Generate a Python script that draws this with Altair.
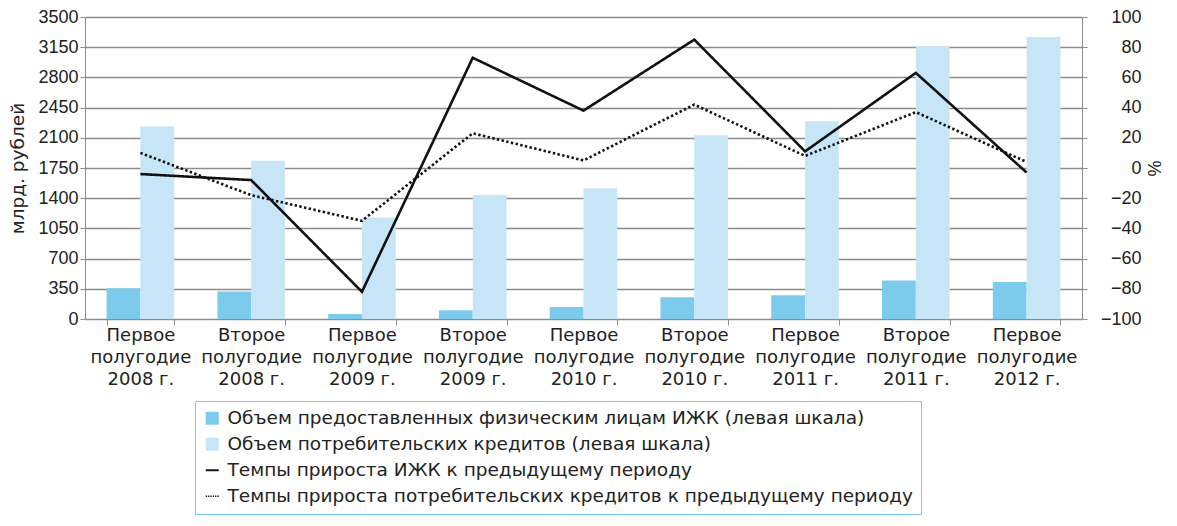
import altair as alt
import pandas as pd

periods = [
    "Первое полугодие 2008 г.", "Второе полугодие 2008 г.",
    "Первое полугодие 2009 г.", "Второе полугодие 2009 г.",
    "Первое полугодие 2010 г.", "Второе полугодие 2010 г.",
    "Первое полугодие 2011 г.", "Второе полугодие 2011 г.",
    "Первое полугодие 2012 г.",
]
izhk_volume = [355, 320, 58, 100, 139, 251, 274, 447, 428]
consumer_volume = [2230, 1835, 1176, 1437, 1511, 2131, 2293, 3160, 3269]
izhk_growth = [-4, -8, -82, 73, 38, 85, 11, 63, -3]
consumer_growth = [10, -18, -35, 23, 5, 42, 8, 37, 4]

series_names = [
    "Объем предоставленных физическим лицам ИЖК (левая шкала)",
    "Объем потребительских кредитов (левая шкала)",
    "Темпы прироста ИЖК к предыдущему периоду",
    "Темпы прироста потребительских кредитов к предыдущему периоду",
]
colors = ["#7ccbec", "#c6e6f7", "#111111", "#111111"]
left_ticks = [0, 350, 700, 1050, 1400, 1750, 2100, 2450, 2800, 3150, 3500]
right_ticks = [-100, -80, -60, -40, -20, 0, 20, 40, 60, 80, 100]

NUM_FONT = "Liberation Sans"
TXT_FONT = "DejaVu Sans"
GRID = "#8c8c8c"
TXT = "#222222"

bars_df = pd.DataFrame(
    [{"period": p, "series": series_names[0], "value": v} for p, v in zip(periods, izhk_volume)]
    + [{"period": p, "series": series_names[1], "value": v} for p, v in zip(periods, consumer_volume)]
)
lines_df = pd.DataFrame(
    [{"period": p, "series": series_names[2], "value": v} for p, v in zip(periods, izhk_growth)]
    + [{"period": p, "series": series_names[3], "value": v} for p, v in zip(periods, consumer_growth)]
)
legend_df = pd.DataFrame({"series": series_names})

label_expr = ("indexof(datum.label, ' ') > 0 ? "
              "[split(datum.label, ' ')[0], split(datum.label, ' ')[1], "
              "split(datum.label, ' ')[2] + ' ' + split(datum.label, ' ')[3]] : ''")

x_enc = alt.X(
    "period:N", sort=periods, title=None,
    scale=alt.Scale(paddingInner=0.39, paddingOuter=0.195),
    axis=alt.Axis(labelExpr=label_expr, labelAngle=0, tickBand="extent",
                  labelFontSize=18, labelLineHeight=22, labelPadding=1,
                  tickSize=6, tickColor=GRID, domainColor=GRID, labelColor=TXT,
                  labelFont=TXT_FONT, grid=False),
)

bars = alt.Chart(bars_df).mark_bar().encode(
    x=x_enc,
    xOffset=alt.XOffset("series:N", sort=series_names[:2]),
    y=alt.Y("value:Q", scale=alt.Scale(domain=[0, 3500], nice=False),
            axis=alt.Axis(values=left_ticks, format="d", title="млрд. рублей", grid=True,
                          gridColor=GRID, gridWidth=1.3, domainColor=GRID,
                          tickColor=GRID, tickSize=5, labelFontSize=18, labelFont=NUM_FONT,
                          labelColor=TXT, titleFontSize=18.5, titleFont=TXT_FONT,
                          titleFontWeight="normal", titleColor=TXT, titlePadding=10)),
    fill=alt.Fill("series:N", scale=alt.Scale(domain=series_names[:2], range=colors[:2]),
                  legend=None),
)

lines = alt.Chart(lines_df).mark_line(strokeWidth=2.6, color="#111111").encode(
    x=alt.X("period:N", sort=periods),
    y=alt.Y("value:Q", scale=alt.Scale(domain=[-100, 100], nice=False),
            axis=alt.Axis(orient="right", values=right_ticks, format="d", title="%",
                          grid=False, domainColor=GRID, tickColor=GRID, tickSize=5,
                          labelFontSize=18, labelFont=NUM_FONT, labelColor=TXT,
                          labelAlign="right", labelPadding=54,
                          titleFontSize=18, titleFont=NUM_FONT, titleFontWeight="normal",
                          titleColor=TXT, titlePadding=2)),
    strokeDash=alt.StrokeDash("series:N",
                              scale=alt.Scale(domain=series_names[2:], range=[[1, 0], [2.4, 2.4]]),
                              legend=None),
)

dotted_path = " ".join(
    f"M{x0},-0.13h0.2v0.26h-0.2Z" for x0 in [-1, -0.64, -0.28, 0.08, 0.44, 0.8]
)
shapes = ["square", "square", "M-1,-0.15H1V0.15H-1Z", dotted_path]

legend_layer = alt.Chart(legend_df).mark_point(filled=True, opacity=1).encode(
    color=alt.Color("series:N", scale=alt.Scale(domain=series_names, range=colors),
                    legend=alt.Legend(
                        title=None, orient="none", legendX=110, legendY=384,
                        direction="vertical", labelLimit=1000, labelFontSize=18.5,
                        labelFont=TXT_FONT, labelColor=TXT, symbolSize=169,
                        symbolStrokeWidth=0, symbolOpacity=1, labelOffset=6, rowPadding=7,
                        padding=8, strokeColor="#7ccbec", fillColor="white")),
    shape=alt.Shape("series:N", scale=alt.Scale(domain=series_names, range=shapes)),
).transform_filter("false")

chart = alt.layer(bars, lines, legend_layer).resolve_scale(
    y="independent"
).properties(
    width=997, height=302,
    padding={"left": 0, "top": 0, "right": 5, "bottom": 0},
).configure_view(stroke=None)

chart.save("out.html", embed_options={"renderer": "svg", "actions": False})
